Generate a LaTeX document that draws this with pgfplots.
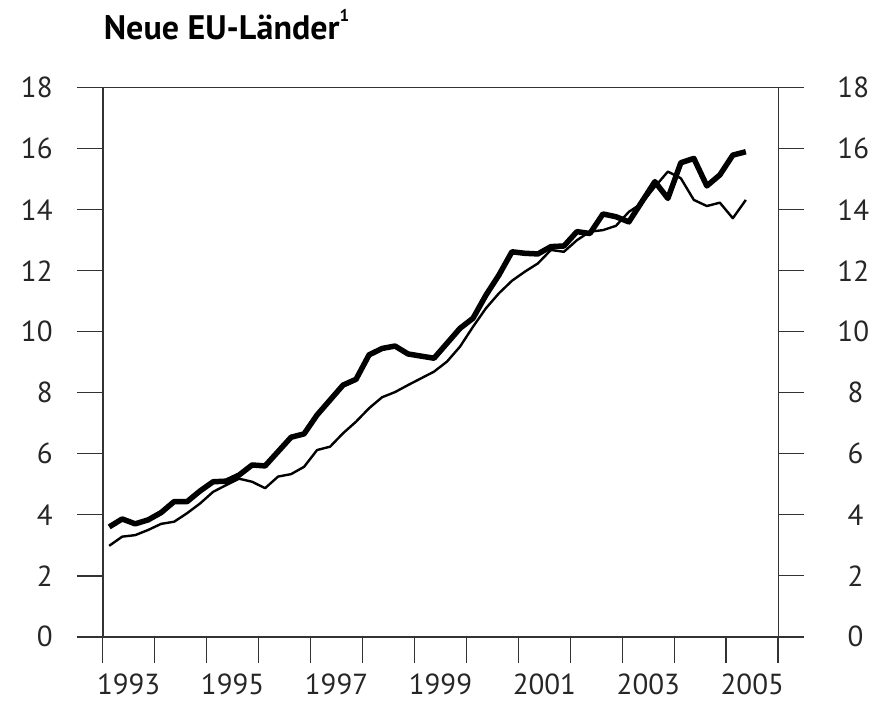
\documentclass[border=0pt]{standalone}
\usepackage{pgfplots}
\pgfplotsset{compat=1.18}
\usepackage{pgfplotstable}
\usepackage{fontspec}
\setmainfont{PT Sans}
\definecolor{axisgray}{HTML}{333333}

\pgfplotstableread{
x thick thin
1993.125 3.60 2.98
1993.375 3.86 3.28
1993.625 3.70 3.33
1993.875 3.83 3.50
1994.125 4.07 3.70
1994.375 4.43 3.77
1994.625 4.43 4.05
1994.875 4.78 4.37
1995.125 5.08 4.75
1995.375 5.10 4.97
1995.625 5.30 5.18
1995.875 5.63 5.08
1996.125 5.60 4.87
1996.375 6.07 5.25
1996.625 6.54 5.33
1996.875 6.65 5.57
1997.125 7.27 6.12
1997.375 7.76 6.23
1997.625 8.25 6.67
1997.875 8.44 7.05
1998.125 9.24 7.49
1998.375 9.45 7.85
1998.625 9.53 8.02
1998.875 9.27 8.25
1999.125 9.20 8.47
1999.375 9.13 8.69
1999.625 9.62 9.02
1999.875 10.11 9.51
2000.125 10.44 10.16
2000.375 11.20 10.77
2000.625 11.86 11.26
2000.875 12.62 11.67
2001.125 12.57 11.97
2001.375 12.55 12.24
2001.625 12.79 12.68
2001.875 12.81 12.62
2002.125 13.28 13.00
2002.375 13.22 13.28
2002.625 13.86 13.33
2002.875 13.77 13.47
2003.125 13.60 13.93
2003.375 14.26 14.21
2003.625 14.92 14.75
2003.875 14.37 15.25
2004.125 15.54 15.03
2004.375 15.68 14.32
2004.625 14.78 14.12
2004.875 15.14 14.23
2005.125 15.79 13.72
2005.375 15.90 14.32
}\data

\pgfplotsset{
  common/.style={
    width=675.6pt, height=549pt, scale only axis,
    xmin=1993, xmax=2006, ymin=0, ymax=18,
    axis line style={color=axisgray, line width=1.6pt},
    every tick/.style={color=axisgray, line width=1.6pt},
    tick align=outside,
    major tick length=26pt,
    ytick={0,2,...,18},
    ticklabel style={font=\fontsize{29}{34}\selectfont, color=black!85},
    /pgf/number format/assume math mode=true,
    clip=false,
  }
}

\begin{document}
\begin{tikzpicture}
\begin{axis}[common, name=ax,
    xtick={1993,...,2006},
    x tick label as interval,
    xticklabels={1993,,1995,,1997,,1999,,2001,,2003,,2005,},
    xtick pos=lower,
    ytick pos=left,
    yticklabel style={inner sep=0pt, xshift=-24pt},
    xticklabel style={inner sep=0pt, yshift=-11pt},
  ]
  \addplot[black, line width=2.4pt, line join=round] table[x=x, y=thin] {\data};
  \addplot[black, line width=5.5pt, line join=round] table[x=x, y=thick] {\data};
\end{axis}
\begin{axis}[common,
    xtick=\empty,
    ytick pos=right,
    yticklabel pos=right,
    yticklabel style={inner sep=0pt, xshift=33pt, text width=26pt, align=right},
  ]
\end{axis}
\node[anchor=base west, inner sep=0pt, font=\fontsize{34}{40}\selectfont\bfseries]
  at ([xshift=1pt, yshift=47.7pt]ax.north west) {Neue EU-Länder\raisebox{0.55em}{\fontsize{17}{20}\selectfont 1}};
\pgfresetboundingbox
\path[use as bounding box] ([xshift=-102.7pt, yshift=-69.3pt]ax.south west) rectangle ([xshift=106.7pt, yshift=87.7pt]ax.north east);
\end{tikzpicture}
\end{document}
